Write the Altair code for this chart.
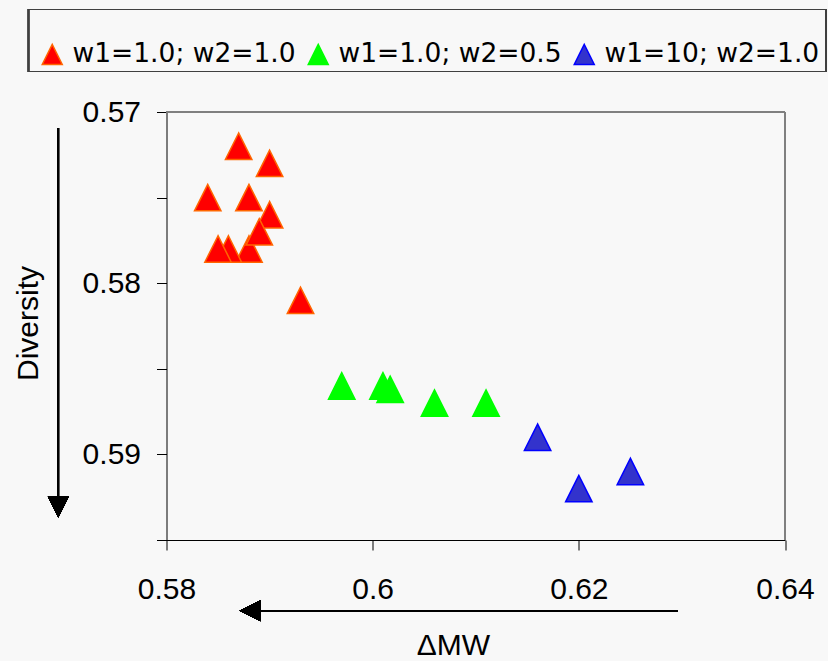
import altair as alt
import pandas as pd

series_labels = ["w1=1.0; w2=1.0", "w1=1.0; w2=0.5", "w1=10; w2=1.0"]
fill_colors = ["#ff0000", "#00ff00", "#3333cc"]
stroke_colors = ["#ff6600", "#00ff00", "#0000ff"]

red_x = [0.587, 0.590, 0.584, 0.588, 0.590, 0.588, 0.586, 0.585, 0.589, 0.593]
red_y = [0.572, 0.573, 0.575, 0.575, 0.576, 0.578, 0.578, 0.578, 0.577, 0.581]
green_x = [0.597, 0.601, 0.6017, 0.606, 0.611]
green_y = [0.586, 0.586, 0.5862, 0.587, 0.587]
blue_x = [0.616, 0.620, 0.625]
blue_y = [0.589, 0.592, 0.591]

x_ticks = [0.58, 0.60, 0.62, 0.64]
y_ticks = [0.57, 0.575, 0.58, 0.585, 0.59, 0.595]

rows = []
for lab, xs, ys in zip(series_labels, [red_x, green_x, blue_x], [red_y, green_y, blue_y]):
    for xv, yv in zip(xs, ys):
        rows.append({"series": lab, "dmw": xv, "diversity": yv})
df = pd.DataFrame(rows)

W, H = 618.5, 428
PAD_L, PAD_T = 166.5, 112
TRI = "M0,-1L-1,1L1,1Z"

legend = alt.Legend(
    title=None, orient="none", legendX=39 - PAD_L, legendY=41 - PAD_T,
    direction="horizontal", symbolType=TRI, symbolSize=400, symbolStrokeWidth=1.5,
    labelFont="DejaVu Sans", labelFontSize=26.5, labelColor="black", labelOffset=7,
    columnPadding=9, padding=0, labelLimit=400,
)

points = alt.Chart(df).mark_point(shape=TRI, filled=True, size=700, strokeWidth=1.5, opacity=1).encode(
    x=alt.X("dmw:Q", scale=alt.Scale(domain=[0.58, 0.64], nice=False, zero=False),
            axis=alt.Axis(values=x_ticks, format=".2~f", title="ΔMW", titleX=453 - PAD_L, titleY=645 - PAD_T - H,
                          titleAngle=0, titleAlign="center", titleBaseline="middle", labelPadding=24,
                          labelFlush=False)),
    y=alt.Y("diversity:Q", scale=alt.Scale(domain=[0.57, 0.595], nice=False, zero=False, reverse=True),
            axis=alt.Axis(values=y_ticks, title="Diversity", titleX=28 - PAD_L, titleY=323 - PAD_T,
                          titleAngle=270, titleAlign="center", titleBaseline="middle", labelPadding=16,
                          labelExpr="abs(datum.value*100 - round(datum.value*100)) < 1e-6 ? format(datum.value, '.2f') : ''")),
    fill=alt.Fill("series:N", scale=alt.Scale(domain=series_labels, range=fill_colors), legend=legend),
    stroke=alt.Stroke("series:N", scale=alt.Scale(domain=series_labels, range=stroke_colors), legend=legend),
)

top_border = alt.Chart(df).mark_rule(color="#808080", strokeWidth=2).encode(
    x=alt.value(0), x2=alt.value(W), y=alt.value(0))
right_border = alt.Chart(df).mark_rule(color="#808080", strokeWidth=2).encode(
    x=alt.value(W), y=alt.value(0), y2=alt.value(H))

y_arrow_line = alt.Chart(df).mark_rule(color="black", strokeWidth=1.5).encode(
    x=alt.value(58.3 - PAD_L), y=alt.value(128 - PAD_T), y2=alt.value(500 - PAD_T))
y_arrow_head = alt.Chart(df).mark_point(shape="M-1,-1L1,-1L0,1Z", filled=True, size=441, color="black", opacity=1).encode(
    x=alt.value(58.3 - PAD_L), y=alt.value(507 - PAD_T))
x_arrow_line = alt.Chart(df).mark_rule(color="black", strokeWidth=1.5).encode(
    x=alt.value(678 - PAD_L), x2=alt.value(255 - PAD_L), y=alt.value(610.7 - PAD_T))
x_arrow_head = alt.Chart(df).mark_point(shape="M1,-1L1,1L-1,0Z", filled=True, size=441, color="black", opacity=1).encode(
    x=alt.value(250 - PAD_L), y=alt.value(610.7 - PAD_T))

legend_box = alt.Chart(df).mark_rect(fill="#f8f8f8", fillOpacity=0, stroke="#404040", strokeWidth=1.2).encode(
    x=alt.value(28.5 - PAD_L), x2=alt.value(826 - PAD_L), y=alt.value(9.5 - PAD_T), y2=alt.value(71.5 - PAD_T))

chart = alt.layer(
    legend_box, top_border, right_border, y_arrow_line, y_arrow_head, x_arrow_line, x_arrow_head, points
).properties(
    width=W, height=H,
    autosize=alt.AutoSizeParams(type="none"),
    padding={"left": PAD_L, "top": PAD_T, "right": 828 - PAD_L - W, "bottom": 661 - PAD_T - H},
    background="#f8f8f8",
).configure_view(strokeWidth=0).configure_axis(
    labelFont="Liberation Sans", labelFontSize=30, labelColor="black",
    titleFont="Liberation Sans", titleFontSize=30, titleColor="black", titleFontWeight="normal",
    domainColor="black", domainWidth=1, tickColor="black", tickSize=10, tickWidth=1, grid=False,
)

chart.save("out.html", embed_options={"renderer": "svg", "actions": False})
